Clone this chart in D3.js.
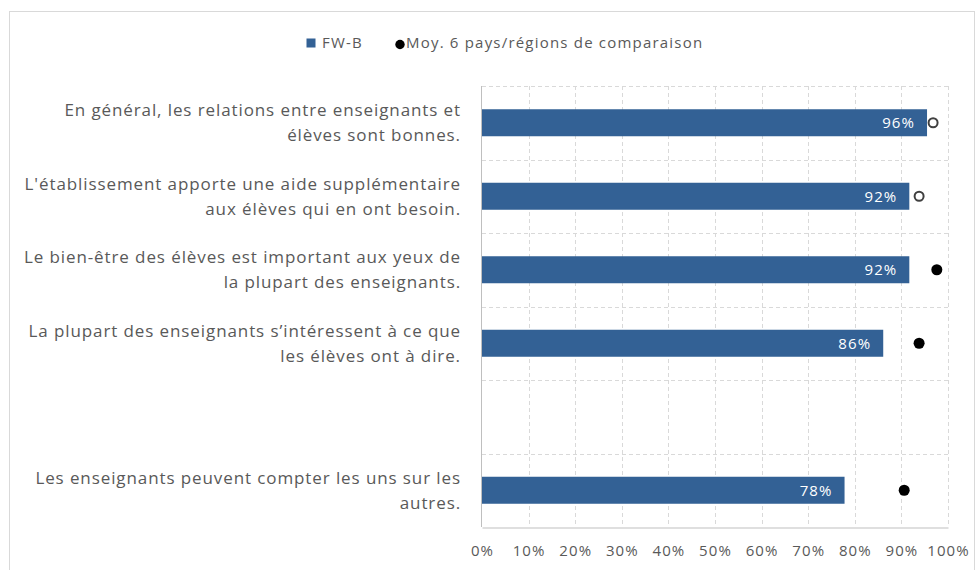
<!DOCTYPE html>
<html>
<head>
<meta charset="utf-8">
<script src="https://cdn.jsdelivr.net/npm/d3@7"></script>
<style>
  body { margin: 0; background: #fff; }
  text { font-family: "Open Sans", sans-serif; }
</style>
</head>
<body>
<div id="chart"></div>
<script>
// Data
var labels = [
  ['En général, les relations entre enseignants et', 'élèves sont bonnes.'],
  ["L'établissement apporte une aide supplémentaire", 'aux élèves qui en ont besoin.'],
  ['Le bien-être des élèves est important aux yeux de', 'la plupart des enseignants.'],
  ['La plupart des enseignants s’intéressent à ce que', 'les élèves ont à dire.'],
  [],
  ['Les enseignants peuvent compter les uns sur les', 'autres.']
];
var fwb = [0.955, 0.917, 0.917, 0.861, null, 0.778];
var moyenne = [0.968, 0.938, 0.976, 0.938, null, 0.906];
var moyenneFilled = [false, false, true, true, null, true];
var ticks = [0, 0.1, 0.2, 0.3, 0.4, 0.5, 0.6, 0.7, 0.8, 0.9, 1];
var seriesNames = ['FW-B', 'Moy. 6 pays/régions de comparaison'];

var width = 979, height = 570;
var margin = { top: 86, right: 31, bottom: 43, left: 482 };
var blue = '#336195';

var svg = d3.select('#chart')
    .append('svg')
    .attr('width', width)
    .attr('height', height);

// chart frame
svg.append('rect')
    .attr('x', 9.5).attr('y', 11.5)
    .attr('width', 965).attr('height', 570)
    .attr('fill', 'none')
    .attr('stroke', '#d9d9d9');

var x = d3.scaleLinear().domain([0, 1]).range([margin.left, width - margin.right]);
var y = d3.scaleBand()
    .domain(d3.range(labels.length))
    .range([margin.top, height - margin.bottom])
    .paddingInner(0).paddingOuter(0);

var g = svg.append('g');

// vertical gridlines
g.selectAll('.vgrid')
    .data(ticks.slice(1))
    .enter()
    .append('line')
    .attr('x1', function (d) { return Math.round(x(d)) + 0.5; })
    .attr('x2', function (d) { return Math.round(x(d)) + 0.5; })
    .attr('y1', margin.top)
    .attr('y2', height - margin.bottom)
    .attr('stroke', '#d9d9d9')
    .attr('stroke-dasharray', '4,3');

// horizontal gridlines (band boundaries)
g.selectAll('.hgrid')
    .data(d3.range(labels.length))
    .enter()
    .append('line')
    .attr('x1', margin.left)
    .attr('x2', width - margin.right)
    .attr('y1', function (d) { return Math.round(y(d)) + 0.5; })
    .attr('y2', function (d) { return Math.round(y(d)) + 0.5; })
    .attr('stroke', '#d9d9d9')
    .attr('stroke-dasharray', '4,3');

// x axis
var xAxis = d3.axisBottom(x)
    .tickValues(ticks)
    .tickFormat(d3.format('.0%'))
    .tickSize(0)
    .tickPadding(18);
var ax = svg.append('g')
    .attr('transform', 'translate(0,' + (Math.round(height - margin.bottom) + 0.5) + ')')
    .call(xAxis);
ax.select('.domain').attr('stroke', '#bfbfbf');
ax.selectAll('text')
    .attr('fill', '#595959')
    .attr('font-family', null)
    .attr('font-size', null)
    .style('font-size', '15px')
    .style('letter-spacing', '1.1px');

// left axis line
svg.append('line')
    .attr('x1', margin.left - 0.5).attr('x2', margin.left - 0.5)
    .attr('y1', margin.top).attr('y2', height - margin.bottom)
    .attr('stroke', '#bfbfbf');

var rows = d3.range(labels.length).filter(function (i) { return fwb[i] != null; });
var barH = 27;

// bars
g.selectAll('.bar')
    .data(rows)
    .enter()
    .append('rect')
    .attr('x', x(0))
    .attr('y', function (i) { return y(i) + y.bandwidth() / 2 - barH / 2; })
    .attr('width', function (i) { return x(fwb[i]) - x(0); })
    .attr('height', barH)
    .attr('fill', blue);

// value labels
g.selectAll('.val')
    .data(rows)
    .enter()
    .append('text')
    .attr('x', function (i) { return x(fwb[i]) - 12; })
    .attr('y', function (i) { return y(i) + y.bandwidth() / 2; })
    .attr('dy', '0.36em')
    .attr('text-anchor', 'end')
    .attr('fill', '#fff')
    .style('font-size', '15px')
    .style('letter-spacing', '1.1px')
    .text(function (i) { return Math.round(fwb[i] * 100) + '%'; });

// comparison markers
g.selectAll('.dot')
    .data(rows)
    .enter()
    .append('circle')
    .attr('cx', function (i) { return x(moyenne[i]); })
    .attr('cy', function (i) { return y(i) + y.bandwidth() / 2; })
    .attr('r', function (i) { return moyenneFilled[i] ? 5.5 : 4.5; })
    .attr('fill', function (i) { return moyenneFilled[i] ? '#000' : '#fff'; })
    .attr('stroke', function (i) { return moyenneFilled[i] ? '#000' : '#404040'; })
    .attr('stroke-width', function (i) { return moyenneFilled[i] ? 0 : 2; });

// category labels
var cat = svg.selectAll('.cat')
    .data(d3.range(labels.length))
    .enter()
    .append('text')
    .attr('text-anchor', 'end')
    .attr('fill', '#595959')
    .style('font-size', '17px')
    .style('letter-spacing', '0.9px');
cat.each(function (i) {
    var t = d3.select(this);
    var lines = labels[i];
    var cy = y(i) + y.bandwidth() / 2;
    lines.forEach(function (line, k) {
        t.append('tspan')
            .attr('x', 461)
            .attr('y', cy + (k - (lines.length - 1) / 2) * 25)
            .attr('dy', '0.35em')
            .text(line);
    });
});

// legend
var legend = svg.append('g').attr('transform', 'translate(0,43)');
legend.append('rect')
    .attr('x', 306.5).attr('y', -4.5)
    .attr('width', 9).attr('height', 9)
    .attr('fill', blue);
legend.append('text')
    .attr('x', 322).attr('dy', '0.35em')
    .attr('fill', '#595959')
    .style('font-size', '15px')
    .style('letter-spacing', '1.2px')
    .text(seriesNames[0]);
legend.append('circle')
    .attr('cx', 400).attr('cy', 1.5)
    .attr('r', 4.7)
    .attr('fill', '#000');
legend.append('text')
    .attr('x', 406).attr('dy', '0.35em')
    .attr('fill', '#595959')
    .style('font-size', '15px')
    .style('letter-spacing', '1.2px')
    .text(seriesNames[1]);
</script>
</body>
</html>
